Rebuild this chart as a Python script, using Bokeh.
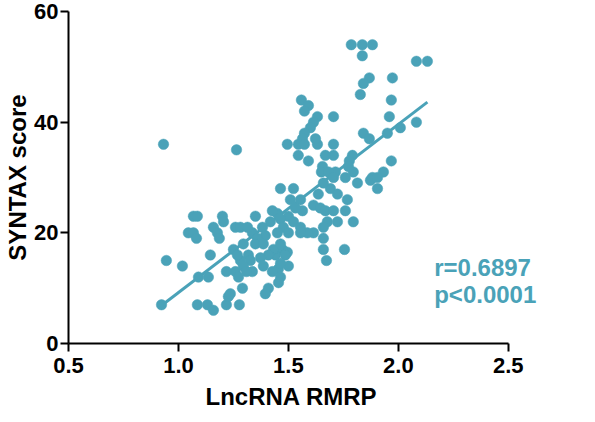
from bokeh.plotting import figure
from bokeh.models import Range1d, Label, FixedTicker, PrintfTickFormatter, Title
from bokeh.embed import file_html
from bokeh.resources import INLINE

# LncRNA RMRP expression vs SYNTAX score, one entry per patient
lncrna_rmrp = [
    1.786, 1.836, 1.882, 1.836, 2.082, 2.132, 1.868, 1.841, 1.973, 1.827,
    1.968, 1.959, 2.082, 2.009, 1.950, 1.841, 1.868, 1.968, 1.932, 1.882,
    1.795, 1.759, 1.791, 1.777, 1.714, 1.705, 1.705, 1.705, 1.559, 1.591,
    1.573, 1.632, 1.614, 1.600, 1.573, 1.564, 1.495, 1.545, 1.573, 1.632,
    1.623, 1.545, 1.591, 1.668, 1.655, 1.650, 1.682, 1.264, 0.932, 1.705,
    1.814, 1.873, 1.905, 1.464, 1.523, 1.691, 1.659, 1.723, 1.636, 1.768,
    1.509, 1.555, 1.614, 1.645, 1.668, 1.705, 1.759, 1.564, 1.450, 1.500,
    1.677, 1.723, 1.795, 1.659, 1.659, 1.659, 1.755, 1.673, 1.614, 1.586,
    1.473, 1.441, 1.495, 1.500, 1.455, 1.532, 1.427, 1.350, 1.418, 1.464,
    1.523, 1.555, 1.477, 1.450, 1.500, 1.336, 1.382, 1.395, 1.359, 1.295,
    1.250, 1.318, 1.350, 1.386, 1.432, 1.464, 1.486, 1.409, 1.373, 1.327,
    1.282, 1.464, 1.386, 1.427, 1.295, 1.336, 1.259, 1.464, 1.409, 1.455,
    1.395, 1.068, 1.086, 1.200, 1.205, 1.045, 1.068, 1.082, 1.159, 1.177,
    1.186, 0.945, 1.018, 1.145, 1.091, 1.136, 0.923, 1.086, 1.132, 1.159,
    1.218, 1.227, 1.236, 1.277, 1.218, 1.273, 1.309, 1.291, 1.268, 1.259,
    1.282, 1.314, 1.555, 1.773, 1.905,
]
syntax_score = [
    54, 54, 54, 52, 51, 51, 48, 47, 48, 45,
    44, 41, 40, 39, 38, 38, 37, 33, 31, 30,
    31, 30, 34, 33, 31, 34, 36, 41, 44, 43,
    42, 41, 40, 39, 38, 37, 36, 36, 36, 36,
    37, 34, 33, 34, 32, 31, 31, 35, 36, 30,
    29, 29.5, 28, 28, 28, 28, 29, 27, 27, 26,
    26, 26, 25, 24.5, 24, 24, 24, 24, 23.5, 23,
    22, 22, 22, 21, 19, 17, 17, 15, 20, 20,
    17, 16, 16.5, 14, 13.5, 24.5, 24, 23, 22, 22.5,
    22, 21, 21, 20, 20, 20, 21, 19.5, 19, 18,
    17, 16, 18, 18, 17, 18, 16, 16, 15.5, 15,
    15, 14.5, 14, 13, 14, 13, 13, 12, 10, 11,
    9, 23, 23, 23, 22, 20, 20, 19, 21, 20,
    19, 15, 14, 16, 12, 12, 7, 7, 7, 6,
    7, 8.5, 9, 7, 13, 12, 13, 10, 16, 21,
    21, 21, 20, 32, 30,
]

# Linear fit and correlation summary
fit_slope = 30.4
fit_intercept = -21.2
stat_lines = ["r=0.6897", "p<0.0001"]

teal = "#4aa2b8"
font = "Liberation Sans"

# frame runs a little past 2.5 so the statistics text has room;
# the axis itself is bounded to 0.5-2.5
p = figure(
    width=595, height=422,
    output_backend="svg", toolbar_location=None,
    x_range=Range1d(0.5, 2.66), y_range=Range1d(0, 60),
    min_border_left=68, min_border_right=52,
    min_border_top=11, min_border_bottom=79,
)
p.grid.visible = False
p.outline_line_color = None

# regression line across the observed range
x0, x1 = min(lncrna_rmrp), max(lncrna_rmrp)
p.line([x0, x1], [fit_slope * x0 + fit_intercept, fit_slope * x1 + fit_intercept],
       line_color=teal, line_width=3)

p.scatter(lncrna_rmrp, syntax_score, size=10.5, fill_color=teal,
          line_color=teal, line_width=0.5)

p.xaxis.ticker = FixedTicker(ticks=[0.5, 1.0, 1.5, 2.0, 2.5])
p.xaxis.formatter = PrintfTickFormatter(format="%.1f")
p.xaxis.bounds = (0.5, 2.5)
p.yaxis.ticker = FixedTicker(ticks=[0, 20, 40, 60])
p.yaxis.axis_label = "SYNTAX score"

for ax in (p.xaxis, p.yaxis):
    ax.axis_line_width = 2
    ax.axis_line_color = "black"
    ax.major_tick_line_width = 2
    ax.major_tick_line_color = "black"
    ax.major_tick_out = 8
    ax.major_tick_in = 0
    ax.minor_tick_line_color = None
    ax.major_label_text_font = font
    ax.major_label_text_font_style = "bold"
    ax.major_label_text_font_size = "22px"
    ax.major_label_text_color = "black"
    ax.axis_label_text_font = font
    ax.axis_label_text_font_style = "bold"
    ax.axis_label_text_font_size = "24px"
    ax.axis_label_text_color = "black"

p.xaxis.major_label_standoff = 6
p.yaxis.major_label_standoff = 2
p.yaxis.axis_label_standoff = 0

# x-axis title, placed under the bounded axis rather than the wider frame
p.add_layout(Title(text="LncRNA RMRP", align="left", offset=137, standoff=11,
                   text_font=font, text_font_style="bold",
                   text_font_size="24px", text_color="black"), "below")

for txt, yy in zip(stat_lines, [13.7, 8.9]):
    p.add_layout(Label(x=2.163, y=yy, text=txt, text_color=teal,
                       text_font=font, text_font_style="bold",
                       text_font_size="24px", text_baseline="alphabetic"))

open("out.html", "w").write(file_html(p, INLINE))
